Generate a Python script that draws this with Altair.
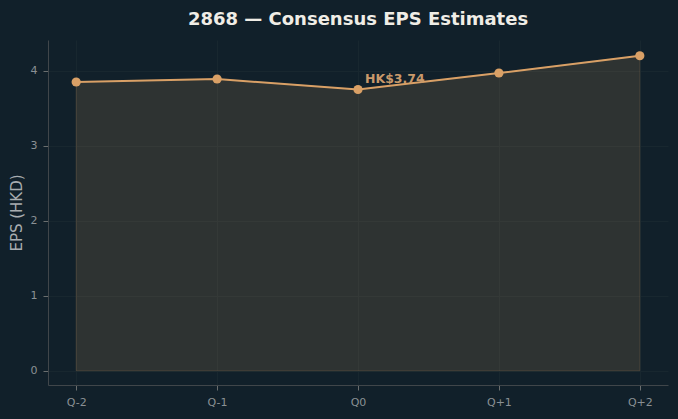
import altair as alt
import pandas as pd

quarters = ["Q-2", "Q-1", "Q0", "Q+1", "Q+2"]
eps = [3.85, 3.89, 3.75, 3.97, 4.20]
label_quarter = ["Q0"]
label_value = [3.75]
label_text = ["HK$3.74"]

df = pd.DataFrame({"q": quarters, "eps": eps})
lab = pd.DataFrame({"q": label_quarter, "eps": label_value, "t": label_text})

LINE = "#d9a066"
BG = "#11202a"

x = alt.X("q:N", sort=quarters, title=None,
          scale=alt.Scale(type="point", padding=0.2),
          axis=alt.Axis(labelAngle=0))
y = alt.Y("eps:Q", title="EPS (HKD)",
          scale=alt.Scale(domain=[-0.19, 4.41], nice=False, zero=False),
          axis=alt.Axis(values=[0, 1, 2, 3, 4]))

area = alt.Chart(df).mark_area(color=LINE, fillOpacity=0.15, stroke=LINE,
                               strokeOpacity=0.18, strokeWidth=1).encode(
    x=x, y=y, y2=alt.datum(0))
line = alt.Chart(df).mark_line(color=LINE, strokeWidth=2).encode(x=x, y=y)
pts = alt.Chart(df).mark_circle(color=LINE, size=85, opacity=1).encode(x=x, y=y)
txt = alt.Chart(lab).mark_text(color="#c9996a", fontWeight="bold", fontSize=12.5,
                               align="left", dx=7, dy=-11, font="DejaVu Sans").encode(
    x=x, y=y, text="t:N")

chart = (area + line + pts + txt).properties(
    width=620, height=345,
    background=BG,
    autosize=alt.AutoSizeParams(type="none"),
    padding={"left": 48, "top": 40, "right": 10, "bottom": 34},
    title=alt.Title("2868 — Consensus EPS Estimates", color="#f0ede6",
                    fontSize=18, fontWeight="bold", font="DejaVu Sans",
                    anchor="middle", offset=11),
).configure_view(stroke=None).configure_axis(
    domainColor="#40464a", tickColor="#6a6e6e", tickSize=5,
    labelColor="#8a9094", labelFont="DejaVu Sans", labelFontSize=11,
    gridColor="#18272f", gridOpacity=1,
    labelPadding=6,
).configure_axisX(grid=True).configure_axisY(
    grid=True, titleFontSize=15, titleFont="DejaVu Sans", titleColor="#a8adb0",
    titleFontWeight="normal", titlePadding=6)

chart.save("out.html", embed_options={"renderer": "svg", "actions": False})
